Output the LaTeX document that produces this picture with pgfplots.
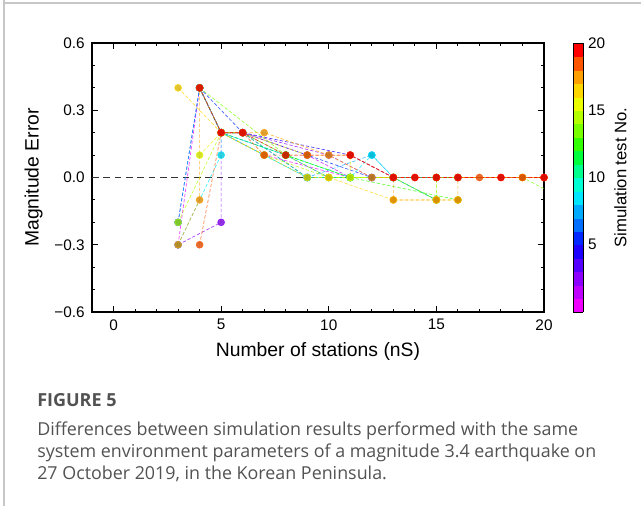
\documentclass[border=0pt]{standalone}
\usepackage{pgfplots}
\pgfplotsset{compat=1.18}
\usepackage{fontspec}
\setmainfont{Liberation Sans}
\newfontfamily\capfont{Open Sans}

% test colours, 1 (magenta) ... 20 (red)
\definecolor{c1}{RGB}{240,0,255}
\definecolor{c2}{RGB}{190,0,255}
\definecolor{c3}{RGB}{140,0,255}
\definecolor{c4}{RGB}{85,0,255}
\definecolor{c5}{RGB}{30,0,255}
\definecolor{c6}{RGB}{0,40,255}
\definecolor{c7}{RGB}{0,110,255}
\definecolor{c8}{RGB}{0,170,255}
\definecolor{c9}{RGB}{0,230,255}
\definecolor{c10}{RGB}{0,255,210}
\definecolor{c11}{RGB}{0,255,140}
\definecolor{c12}{RGB}{0,255,60}
\definecolor{c13}{RGB}{50,255,0}
\definecolor{c14}{RGB}{120,255,0}
\definecolor{c15}{RGB}{180,255,0}
\definecolor{c16}{RGB}{235,255,0}
\definecolor{c17}{RGB}{255,215,0}
\definecolor{c18}{RGB}{255,160,0}
\definecolor{c19}{RGB}{255,85,0}
\definecolor{c20}{RGB}{255,0,0}

\pgfplotsset{
  test/.style={draw=#1, draw opacity=0.75, line width=0.5pt, dash pattern=on 2.5pt off 1.5pt,
    mark=*, mark size=2.6pt, mark options={solid, draw=none, fill=#1!85!black, fill opacity=0.8}},
}

\begin{document}
\begin{tikzpicture}
\useasboundingbox (-69pt,-145.5pt) rectangle (411.75pt,234pt);
\draw[black!22, line width=0.8pt] (-66pt,234pt) -- (-66pt,-145.5pt);
\draw[black!22, line width=0.8pt] (-66pt,231.75pt) -- (411.75pt,231.75pt);
\begin{axis}[
  at={(0,0)}, anchor=south west, scale only axis,
  width=339pt, height=201.75pt,
  xmin=-1, xmax=20, ymin=-0.6, ymax=0.6,
  xtick={0,5,10,15,20}, minor x tick num=4,
  ytick={-0.6,-0.3,0,0.3,0.6}, yticklabels={−0.6,−0.3,0.0,0.3,0.6},
  minor y tick num=2,
  tick align=inside, major tick length=4.5pt, minor tick length=2.5pt,
  axis line style={line width=1.2pt}, every tick/.style={black, line width=0.7pt},
  tick label style={font=\fontsize{11.5}{13}\selectfont},
  /pgf/number format/assume math mode=true,
  xticklabel style={yshift=-2pt}, yticklabel style={xshift=-2pt},
  xlabel={Number of stations (nS)}, ylabel={Magnitude Error},
  label style={font=\fontsize{14.5}{16}\selectfont},
  xlabel style={yshift=-2pt}, ylabel style={yshift=2pt},
  clip=true,
  colormap={sim}{color=(c1) color=(c2) color=(c3) color=(c4) color=(c5) color=(c6) color=(c7) color=(c8) color=(c9) color=(c10) color=(c11) color=(c12) color=(c13) color=(c14) color=(c15) color=(c16) color=(c17) color=(c18) color=(c19) color=(c20)},
  colormap access=piecewise constant,
  point meta min=0, point meta max=20,
  colorbar sampled,
  colorbar style={samples=21, width=7.5pt, at={(parent axis.north east)}, anchor=north west, xshift=13.5pt,
    ytick={5,10,15,20}, major tick length=0pt, minor tick num=0,
    /pgf/number format/assume math mode=true,
    axis line style={line width=0.5pt},
    tick label style={font=\fontsize{11.5}{13}\selectfont},
    ylabel={Simulation test No.}, label style={font=\fontsize{12.5}{14}\selectfont}},
]
\addplot[black!80, dash pattern=on 5pt off 3.5pt, line width=0.8pt, forget plot] coordinates {(-1,0) (20,0)};

\addplot[test=c1] coordinates {(3,-0.3) (4,0.4) (5,0.2) (7,0.1) (11,0.0) (13,0.0)};
\addplot[test=c2] coordinates {(4,0.4) (5,0.2) (6,0.2) (9,0.1) (11,0.0) (13,0.0)};
\addplot[test=c3] coordinates {(3,-0.3) (5,-0.2) (5,0.2) (6,0.2) (10,0.1) (12,0.0) (13,0.0)};
\addplot[test=c4] coordinates {(5,0.2) (6,0.2) (9,0.0) (13,0.0)};
\addplot[test=c5] coordinates {(3,-0.2) (4,0.4) (5,0.2) (6,0.2) (11,0.1) (13,0.0)};
\addplot[test=c6] coordinates {(4,0.4) (6,0.2) (9,0.1) (12,0.0) (15,0.0)};
\addplot[test=c7] coordinates {(4,0.4) (5,0.2) (8,0.1) (10,0.0) (13,0.0) (15,-0.1)};
\addplot[test=c8] coordinates {(3,-0.2) (4,0.4) (5,0.2) (7,0.1) (9,0.0) (12,0.1) (13,0.0) (16,0.0)};
\addplot[test=c9] coordinates {(3,-0.3) (5,0.1) (5,0.2) (8,0.1) (11,0.0) (12,0.1) (13,0.0)};
\addplot[test=c10] coordinates {(4,0.4) (5,0.2) (7,0.1) (9,0.0) (13,0.0) (15,0.0)};
\addplot[test=c11] coordinates {(5,0.2) (6,0.2) (9,0.0) (11,0.0) (13,0.0) (16,0.0)};
\addplot[test=c12] coordinates {(4,0.4) (5,0.2) (8,0.1) (11,0.0) (13,0.0) (15,-0.1)};
\addplot[test=c13] coordinates {(5,0.2) (6,0.2) (8,0.1) (11,0.0) (16,-0.1)};
\addplot[test=c14] coordinates {(4,0.4) (8,0.1) (10,0.0) (13,0.0) (15,-0.1) (15,0.0) (19,0.0) (21,-0.1)};
\addplot[test=c15] coordinates {(3,-0.2) (5,0.2) (7,0.1) (10,0.0) (13,0.0) (15,0.0) (15,-0.1)};
\addplot[test=c16] coordinates {(4,0.1) (5,0.2) (6,0.2) (9,0.1) (11,0.1) (11,0.0) (13,0.0)};
\addplot[test=c17] coordinates {(3,0.4) (5,0.2) (7,0.1) (9,0.0) (10,0.0) (13,-0.1) (15,-0.1) (16,-0.1)};
\addplot[test=c18] coordinates {(3,-0.3) (4,-0.1) (4,0.4) (5,0.2) (7,0.2) (10,0.1) (12,0.0) (13,0.0) (13,-0.1) (15,-0.1) (16,-0.1) (16,0.0) (19,0.0) (20,0.0)};
\addplot[test=c19] coordinates {(4,-0.3) (5,0.2) (6,0.2) (7,0.1) (9,0.1) (11,0.1) (13,0.0) (14,0.0) (15,0.0) (16,0.0) (17,0.0) (18,0.0) (19,0.0) (20,0.0)};
\addplot[test=c20] coordinates {(4,0.4) (5,0.2) (6,0.2) (8,0.1) (11,0.1) (13,0.0) (14,0.0) (15,0.0) (16,0.0) (18,0.0) (20,0.0)};
\end{axis}
\node[anchor=base west, inner sep=0pt, text=black!68] at (-41.25pt,-70.5pt) {\capfont\bfseries\fontsize{13.5}{15}\selectfont FIGURE 5};
\node[anchor=base west, inner sep=0pt, text=black!68] at (-41.25pt,-92.25pt) {\capfont\fontsize{13.4}{15}\selectfont Differences between simulation results performed with the same};
\node[anchor=base west, inner sep=0pt, text=black!68] at (-41.25pt,-108.75pt) {\capfont\fontsize{13.4}{15}\selectfont system environment parameters of a magnitude 3.4 earthquake on};
\node[anchor=base west, inner sep=0pt, text=black!68] at (-41.25pt,-125.25pt) {\capfont\fontsize{13.4}{15}\selectfont 27 October 2019, in the Korean Peninsula.};
\end{tikzpicture}
\end{document}
